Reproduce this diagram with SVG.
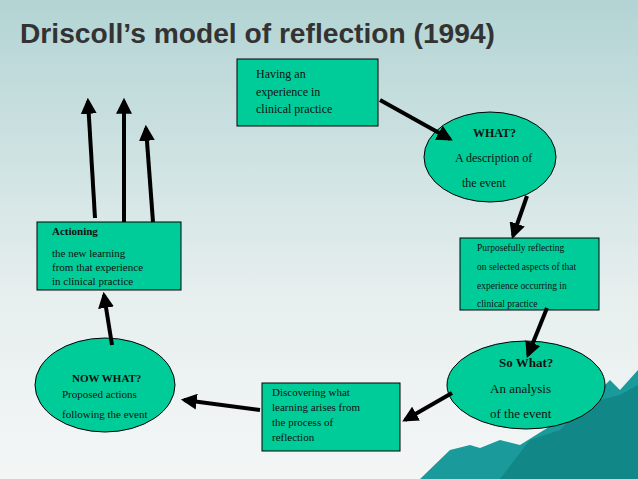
<svg xmlns="http://www.w3.org/2000/svg" width="638" height="479" viewBox="0 0 638 479">
<defs>
<linearGradient id="bg" x1="0" y1="0" x2="0" y2="1"><stop offset="0" stop-color="#b3d4d4"/><stop offset="0.6" stop-color="#e6eeee"/><stop offset="1" stop-color="#f4f6f6"/></linearGradient>
<marker id="ah" viewBox="0 0 10 10" refX="8" refY="5" markerWidth="4" markerHeight="4" orient="auto"><path d="M0,0 L10,5 L0,10 z" fill="#000"/></marker>
<style>
.n{fill:#00cc99;stroke:#000;stroke-width:1}
.t{font-family:"Liberation Serif",serif;fill:#111}
.c line{stroke:#000;stroke-width:4;marker-end:url(#ah)}
</style>
</defs>
<rect width="638" height="479" fill="url(#bg)"/>
<path d="M420,479 L450,450 L470,445 L480,448 L500,440 L520,445 L560,420 L590,400 L610,380 L620,390 L638,370 L638,479 Z" fill="#1a9a9a"/>
<path d="M500,479 L530,440 L560,430 L580,410 L600,400 L620,395 L638,385 L638,479 Z" fill="#0e7f80" opacity="0.7"/>
<text x="20" y="43" font-family="Liberation Sans,sans-serif" font-weight="bold" font-size="27" fill="#333" textLength="475" lengthAdjust="spacingAndGlyphs">Driscoll’s model of reflection (1994)</text>
<g id="experience"><rect class="n" x="237" y="59" width="141" height="67"/>
<text class="t" font-size="12"><tspan x="256" y="78">Having an</tspan><tspan x="256" y="96">experience in</tspan><tspan x="256" y="113">clinical practice</tspan></text></g>
<g id="what"><ellipse class="n" cx="490" cy="157" rx="66" ry="45"/>
<text class="t" font-size="12"><tspan x="473" y="137" font-weight="bold">WHAT?</tspan><tspan x="455" y="162">A  description of</tspan><tspan x="462" y="187">the event</tspan></text></g>
<g id="reflecting"><rect class="n" x="460" y="238" width="139" height="72"/>
<text class="t" font-size="9.5"><tspan x="477" y="251">Purposefully reflecting</tspan><tspan x="477" y="270">on selected aspects of that</tspan><tspan x="477" y="289">experience occurring in</tspan><tspan x="477" y="307">clinical practice</tspan></text></g>
<g id="sowhat"><ellipse class="n" cx="526" cy="385" rx="79" ry="44"/>
<text class="t" font-size="13"><tspan x="499" y="367" font-weight="bold">So What?</tspan><tspan x="490" y="393">An analysis</tspan><tspan x="490" y="418">of the event</tspan></text></g>
<g id="discovering"><rect class="n" x="262" y="383" width="138" height="68"/>
<text class="t" font-size="11"><tspan x="272" y="396">Discovering what</tspan><tspan x="272" y="411">learning arises from</tspan><tspan x="272" y="426">the process of</tspan><tspan x="272" y="441">reflection</tspan></text></g>
<g id="nowwhat"><ellipse class="n" cx="105" cy="385" rx="70" ry="47"/>
<text class="t" font-size="11"><tspan x="72" y="382" font-weight="bold">NOW WHAT?</tspan><tspan x="62" y="398">Proposed actions</tspan><tspan x="62" y="418">following the event</tspan></text></g>
<g id="actioning"><rect class="n" x="37" y="222" width="144" height="68"/>
<text class="t" font-size="11"><tspan x="52" y="235" font-weight="bold">Actioning</tspan><tspan x="52" y="257">the new learning</tspan><tspan x="52" y="271">from that experience</tspan><tspan x="52" y="285">in clinical practice</tspan></text></g>
<g class="c">
<line x1="380" y1="100" x2="450" y2="139"/>
<line x1="527" y1="196" x2="513" y2="236"/>
<line x1="547" y1="308" x2="528" y2="355"/>
<line x1="452" y1="393" x2="405" y2="420"/>
<line x1="260" y1="410" x2="184" y2="400"/>
<line x1="112" y1="345" x2="104" y2="295"/>
<line x1="95" y1="218" x2="88" y2="101"/>
<line x1="124" y1="222" x2="124" y2="101"/>
<line x1="153" y1="222" x2="146" y2="128"/>
</g>
</svg>
